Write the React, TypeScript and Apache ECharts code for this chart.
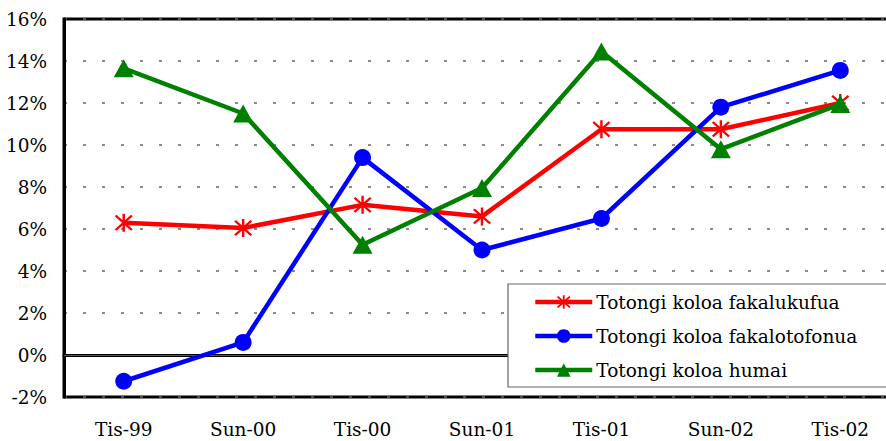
import React, { useEffect, useRef } from "react";
import * as echarts from "echarts";

const categories = ["Tis-99", "Sun-00", "Tis-00", "Sun-01", "Tis-01", "Sun-02", "Tis-02"];
const seriesNames = ["Totongi koloa fakalukufua", "Totongi koloa fakalotofonua", "Totongi koloa humai"];
const overall = [6.3, 6.05, 7.15, 6.6, 10.75, 10.75, 12.0];
const domestic = [-1.25, 0.6, 9.4, 5.0, 6.5, 11.8, 13.55];
const imported = [13.65, 11.5, 5.25, 7.95, 14.45, 9.8, 11.95];
const yTicks = { min: -2, max: 16, interval: 2 };

const FONT = "DejaVu Serif";
const FS = 18.5;

const asterisk =
  "path://M4.4,0 L5.6,0 L5.6,10 L4.4,10 Z " +
  "M1.42,0.58 L9.42,8.58 L8.58,9.42 L0.58,1.42 Z " +
  "M9.42,1.42 L1.42,9.42 L0.58,8.58 L8.58,0.58 Z";

export default function App() {
  const ref = useRef<HTMLDivElement>(null);
  useEffect(() => {
    if (!ref.current) return;
    const chart = echarts.init(ref.current, undefined, { renderer: "svg" });
    chart.setOption({
      animation: false,
      backgroundColor: "#fff",
      textStyle: { fontFamily: FONT },
      grid: {
        left: 64,
        top: 19,
        width: 836,
        height: 378,
        show: true,
        borderColor: "#000",
        borderWidth: 3,
        backgroundColor: "transparent",
      },
      graphic: [
        {
          type: "rect",
          shape: { x: 508, y: 284, width: 440, height: 103 },
          style: { fill: "#fff", stroke: "#666", lineWidth: 1.2 },
          z: 10,
        },
      ],
      legend: {
        orient: "vertical",
        left: 533,
        top: 291,
        padding: 0,
        itemWidth: 57,
        itemHeight: 17,
        itemGap: 12,
        z: 11,
        lineStyle: { width: 4.5 },
        textStyle: { fontFamily: FONT, fontSize: FS, color: "#000", lineHeight: 22, padding: [0, 0, 0, -1] },
        data: seriesNames,
      },
      xAxis: {
        type: "category",
        data: categories,
        boundaryGap: true,
        axisLine: { show: true, lineStyle: { color: "#000", width: 3 } },
        axisTick: { show: false },
        axisLabel: { fontFamily: FONT, fontSize: FS, color: "#000", margin: 23 },
        splitLine: { show: false },
      },
      yAxis: {
        type: "value",
        min: yTicks.min,
        max: yTicks.max,
        interval: yTicks.interval,
        axisLine: { show: true, lineStyle: { color: "#000", width: 3 } },
        axisTick: { show: false },
        axisLabel: { fontFamily: FONT, fontSize: FS, color: "#000", margin: 17, formatter: "{value}%" },
        splitLine: { show: true, lineStyle: { color: "#666", width: 1.5, type: [3, 16] } },
      },
      series: [
        {
          name: seriesNames[0],
          type: "line",
          data: overall,
          symbol: asterisk,
          symbolSize: 18,
          color: "#ff0000",
          lineStyle: { width: 4.5, color: "#ff0000" },
          itemStyle: { color: "#ff0000" },
          z: 3,
          markLine: {
            silent: true,
            symbol: "none",
            label: { show: false },
            lineStyle: { color: "#555", width: 1, type: "solid" },
            data: [{ yAxis: 0 }],
            z: 1,
          },
        },
        {
          name: seriesNames[1],
          type: "line",
          data: domestic,
          symbol: "circle",
          symbolSize: 17,
          color: "#0000ff",
          lineStyle: { width: 4.5, color: "#0000ff" },
          itemStyle: { color: "#0000ff" },
          z: 4,
        },
        {
          name: seriesNames[2],
          type: "line",
          data: imported,
          symbol: "triangle",
          symbolSize: [20, 18],
          color: "#008000",
          lineStyle: { width: 4.5, color: "#008000" },
          itemStyle: { color: "#008000" },
          z: 5,
        },
      ],
    });
    return () => chart.dispose();
  }, []);
  return (
    <div style={{ position: "fixed", left: 0, top: 0, width: 886, height: 441, overflow: "hidden", background: "#fff" }}>
      <div ref={ref} style={{ width: 920, height: 441 }} />
    </div>
  );
}
